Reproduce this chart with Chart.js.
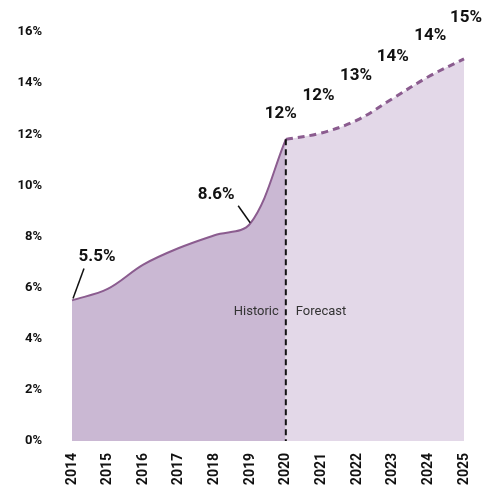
<!DOCTYPE html>
<html>
<head>
<meta charset="utf-8">
<script src="https://cdn.jsdelivr.net/npm/chart.js@4"></script>
<style>
  html, body { margin: 0; padding: 0; background: #fff; }
  #wrap { width: 489px; height: 493px; }
</style>
</head>
<body>
<div id="wrap"><canvas id="chart" width="489" height="493"></canvas></div>
<script>
const years = ['2014', '2015', '2016', '2017', '2018', '2019', '2020', '2021', '2022', '2023', '2024', '2025'];
const historic = [5.5, 5.95, 6.9, 7.55, 8.05, 8.5, 11.8, null, null, null, null, null];
const forecast = [null, null, null, null, null, null, 11.8, 12.05, 12.55, 13.4, 14.25, 14.95];
const pointLabels = ['5.5%', null, null, null, null, '8.6%', '12%', '12%', '13%', '14%', '14%', '15%'];
const yTicks = [0, 2, 4, 6, 8, 10, 12, 14, 16];

const lineColor = '#8b5c8f';
const font = 'Roboto, "DejaVu Sans", sans-serif';

// label offsets from the point, and which ones get a leader line
const labelPos = {
  0: { dx: 25, dy: -44, leader: [[12, -32], [1, -2]] },
  5: { dx: -34, dy: -29, leader: [[-12, -18], [0, -1]] },
  6: { dx: -5, dy: -26 },
  7: { dx: -3, dy: -37 },
  8: { dx: -1, dy: -44 },
  9: { dx: 0, dy: -42 },
  10: { dx: 2, dy: -41 },
  11: { dx: 2, dy: -41 }
};

const annotations = {
  id: 'annotations',
  afterDatasetsDraw(chart) {
    const ctx = chart.ctx;
    const x = chart.scales.x;
    const y = chart.scales.y;

    // divider between historic and forecast
    const split = 6;
    const sx = x.getPixelForValue(split);
    ctx.save();
    ctx.strokeStyle = '#111';
    ctx.lineWidth = 2;
    ctx.setLineDash([6, 4]);
    ctx.beginPath();
    ctx.moveTo(sx, y.getPixelForValue(historic[split]));
    ctx.lineTo(sx, y.bottom);
    ctx.stroke();
    ctx.setLineDash([]);

    ctx.font = '13px ' + font;
    ctx.fillStyle = '#333';
    ctx.textBaseline = 'middle';
    const ty = y.getPixelForValue(5.05);
    ctx.textAlign = 'right';
    ctx.fillText('Historic', sx - 7, ty);
    ctx.textAlign = 'left';
    ctx.fillText('Forecast', sx + 10, ty);

    // value labels
    ctx.font = 'bold 17px ' + font;
    ctx.fillStyle = '#111';
    ctx.textAlign = 'center';
    pointLabels.forEach((txt, i) => {
      if (!txt) return;
      const v = historic[i] !== null ? historic[i] : forecast[i];
      const px = x.getPixelForValue(i);
      const py = y.getPixelForValue(v);
      const p = labelPos[i];
      ctx.fillText(txt, px + p.dx, py + p.dy);
      if (p.leader) {
        ctx.strokeStyle = '#111';
        ctx.lineWidth = 1.5;
        ctx.beginPath();
        ctx.moveTo(px + p.leader[0][0], py + p.leader[0][1]);
        ctx.lineTo(px + p.leader[1][0], py + p.leader[1][1]);
        ctx.stroke();
      }
    });
    ctx.restore();
  }
};

new Chart(document.getElementById('chart'), {
  type: 'line',
  data: {
    labels: years,
    datasets: [
      {
        data: historic,
        borderColor: lineColor,
        borderWidth: 2,
        backgroundColor: '#cab8d3',
        fill: 'origin',
        pointRadius: 0,
        tension: 0.35
      },
      {
        data: forecast,
        borderColor: lineColor,
        borderWidth: 3,
        borderDash: [7, 5],
        backgroundColor: '#e3d8e8',
        fill: 'origin',
        pointRadius: 0,
        tension: 0.35
      }
    ]
  },
  options: {
    responsive: false,
    animation: false,
    layout: { padding: { top: 32, right: 25, left: 0, bottom: 0 } },
    plugins: {
      legend: { display: false },
      tooltip: { enabled: false }
    },
    scales: {
      x: {
        grid: { display: false, drawTicks: false },
        border: { display: false },
        afterFit(scale) {
          scale.height = 52;
          scale.paddingLeft = 0;
          scale.paddingRight = 0;
        },
        ticks: {
          minRotation: 90,
          maxRotation: 90,
          padding: 12,
          color: '#111',
          font: { family: font, size: 14, weight: 'bold' }
        }
      },
      y: {
        min: 0,
        max: 16,
        grid: { display: false, drawTicks: false },
        border: { display: false },
        afterFit(scale) {
          scale.width = 72;
          scale.paddingTop = 0;
          scale.paddingBottom = 0;
        },
        afterBuildTicks(scale) { scale.ticks = yTicks.map(v => ({ value: v })); },
        ticks: {
          padding: 30,
          color: '#111',
          font: { family: font, size: 13, weight: 'bold' },
          callback: v => v + '%'
        }
      }
    }
  },
  plugins: [annotations]
});
</script>
</body>
</html>
